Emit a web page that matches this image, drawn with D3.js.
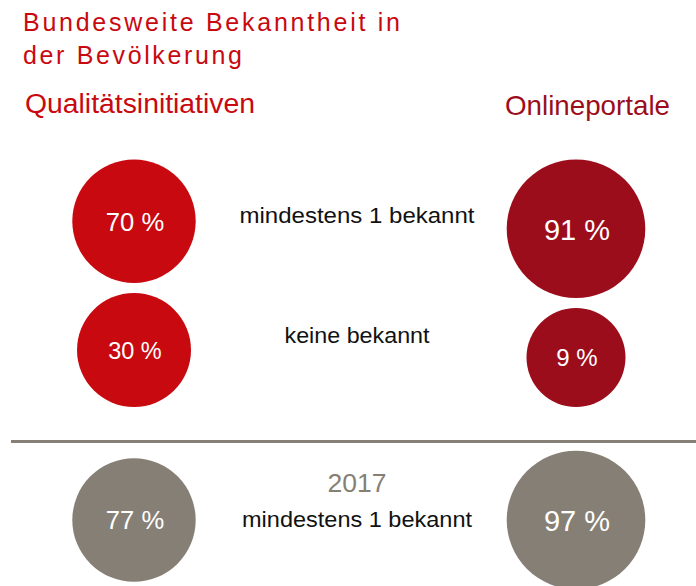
<!DOCTYPE html>
<html>
<head>
<meta charset="utf-8">
<script src="https://cdn.jsdelivr.net/npm/d3@7"></script>
<style>
  body { margin: 0; background: #fff; }
  text { font-family: "Liberation Sans", Arial, sans-serif; }
</style>
</head>
<body>
<div id="chart"></div>
<script>
// Data
const titleLines = ["Bundesweite Bekanntheit in", "der Bevölkerung"];
const columns = ["Qualitätsinitiativen", "Onlineportale"];
const rowLabels = ["mindestens 1 bekannt", "keine bekannt", "mindestens 1 bekannt"];
const qualitaetValues = [70, 30, 77];
const portalValues = [91, 9, 97];
const yearLabel = "2017";

const width = 696, height = 586;
const red = "#c8090f", darkRed = "#9c0d1c", gray = "#867f75";

const svg = d3.select("#chart")
    .append("svg")
    .attr("width", width)
    .attr("height", height);

// Title
svg.selectAll(".title")
    .data(titleLines)
    .enter()
    .append("text")
    .attr("class", "title")
    .attr("x", 23)
    .attr("y", (d, i) => 31 + i * 32.5)
    .attr("textLength", (d, i) => [377, 219][i])
    .attr("lengthAdjust", "spacing")
    .style("font-size", "25px")
    .style("fill", red)
    .text(d => d);

// Column headers
svg.append("text")
    .attr("x", 25)
    .attr("y", 113)
    .attr("textLength", 230)
    .attr("lengthAdjust", "spacingAndGlyphs")
    .style("font-size", "27px")
    .style("fill", red)
    .text(columns[0]);

svg.append("text")
    .attr("x", 505)
    .attr("y", 115)
    .attr("textLength", 165)
    .attr("lengthAdjust", "spacingAndGlyphs")
    .style("font-size", "28px")
    .style("fill", darkRed)
    .text(columns[1]);

// Scales
const xScale = d3.scalePoint()
    .domain(["left", "mid", "right"])
    .range([134, 576]);

const rScale = d3.scaleLinear()
    .domain([9, 30, 70, 80, 91])
    .range([49.5, 57, 61.7, 61.7, 69.3])
    .clamp(true);

const fontScale = d3.scaleLinear()
    .domain([49.5, 57, 69.3])
    .range([24, 23.5, 29]);

// row anchor: top edge, bottom edge, or center of the circles
const rowAnchor = d3.scaleOrdinal().domain([0, 1, 2]).range([159.5, 407, 520]);
const rowAlign = ["top", "bottom", "middle"];
const labelY = d3.scaleOrdinal().domain([0, 1, 2]).range([223, 343, 527]);

function cy(row, r) {
    if (rowAlign[row] === "top") return rowAnchor(row) + r;
    if (rowAlign[row] === "bottom") return rowAnchor(row) - r;
    return rowAnchor(row);
}

const bubbles = [];
qualitaetValues.forEach((v, i) => bubbles.push({ col: "left", row: i, value: v, color: i === 2 ? gray : red }));
portalValues.forEach((v, i) => bubbles.push({ col: "right", row: i, value: v, color: i === 2 ? gray : darkRed }));

// Separator line above the 2017 row
svg.append("line")
    .attr("x1", 11)
    .attr("x2", width)
    .attr("y1", 441.5)
    .attr("y2", 441.5)
    .style("stroke", gray)
    .style("stroke-width", 3);

// Circles
const g = svg.selectAll(".bubble")
    .data(bubbles)
    .enter()
    .append("g")
    .attr("class", "bubble");

g.append("circle")
    .attr("cx", d => xScale(d.col))
    .attr("cy", d => cy(d.row, rScale(d.value)))
    .attr("r", d => rScale(d.value))
    .style("fill", d => d.color);

g.append("text")
    .attr("x", d => xScale(d.col) + 1)
    .attr("y", d => cy(d.row, rScale(d.value)) + fontScale(rScale(d.value)) * 0.37)
    .attr("text-anchor", "middle")
    .style("font-size", d => fontScale(rScale(d.value)) + "px")
    .style("fill", "#fff")
    .text(d => d.value + " %");

// Middle labels
svg.selectAll(".rowlabel")
    .data(rowLabels)
    .enter()
    .append("text")
    .attr("class", "rowlabel")
    .attr("x", xScale("mid") + 2)
    .attr("y", (d, i) => labelY(i))
    .attr("text-anchor", "middle")
    .attr("textLength", (d, i) => [235, 145, 230][i])
    .attr("lengthAdjust", "spacingAndGlyphs")
    .style("font-size", "22px")
    .style("fill", "#111")
    .text(d => d);

svg.append("text")
    .attr("x", xScale("mid") + 2)
    .attr("y", 492)
    .attr("text-anchor", "middle")
    .attr("textLength", 59)
    .attr("lengthAdjust", "spacingAndGlyphs")
    .style("font-size", "26px")
    .style("fill", gray)
    .text(yearLabel);
</script>
</body>
</html>
